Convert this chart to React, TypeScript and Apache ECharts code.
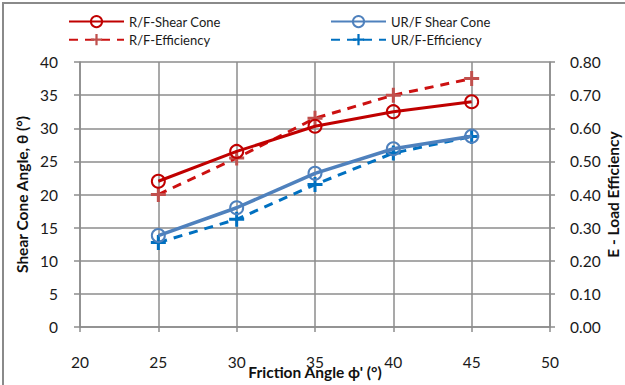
import React, { useEffect, useRef } from "react";
import * as echarts from "echarts";

const frictionAngles = [25, 30, 35, 40, 45];
const rfShearCone = [22.0, 26.5, 30.3, 32.5, 34.0];
const rfEfficiency = [0.40, 0.51, 0.63, 0.70, 0.75];
const urfShearCone = [13.8, 18.0, 23.2, 26.9, 28.8];
const urfEfficiency = [0.255, 0.325, 0.43, 0.525, 0.575];

const PLUS = "path://M4,0H6V4H10V6H6V10H4V6H0V4H4Z";
const FONT = "Lato";

export default function App() {
  const ref = useRef<HTMLDivElement>(null);
  useEffect(() => {
    const chart = echarts.init(ref.current!, null, { renderer: "svg" });
    const pair = (vals: number[]) => frictionAngles.map((x, i) => [x, vals[i]]);
    const grid = { color: "#8c8c8c", width: 1.5 };
    const nameStyle = { fontFamily: FONT, fontSize: 15.5, fontWeight: "bold", color: "#111" };
    const labelStyle = { fontFamily: FONT, fontSize: 15.5, color: "#1a1a1a" };
    chart.setOption({
      animation: false,
      textStyle: { fontFamily: FONT },
      graphic: [
        {
          type: "rect",
          shape: { x: 3, y: 3, width: 700, height: 500 },
          style: { fill: "none", stroke: "#8a8a8a", lineWidth: 2 },
          silent: true,
        },
      ],
      legend: [
        {
          left: 63,
          top: 10,
          orient: "vertical",
          itemWidth: 55,
          itemHeight: 14,
          itemGap: 5,
          textStyle: { fontFamily: FONT, fontSize: 13, color: "#1a1a1a" },
          data: ["R/F-Shear Cone", "R/F-Efficiency"],
        },
        {
          left: 325,
          top: 10,
          orient: "vertical",
          itemWidth: 55,
          itemHeight: 14,
          itemGap: 5,
          textStyle: { fontFamily: FONT, fontSize: 13, color: "#1a1a1a" },
          data: ["UR/F Shear Cone", "UR/F-Efficiency"],
        },
      ],
      grid: { left: 80, right: 75, top: 62, bottom: 58, outerBoundsMode: "none", containLabel: false },
      xAxis: {
        type: "value",
        min: 20,
        max: 50,
        interval: 5,
        name: "Friction Angle ϕ' (°)",
        nameLocation: "middle",
        nameGap: 37,
        nameMoveOverlap: false,
        nameTextStyle: nameStyle,
        axisLine: { lineStyle: grid },
        axisTick: { show: true, length: 5, lineStyle: grid },
        axisLabel: { margin: 27, ...labelStyle },
        splitLine: { show: true, lineStyle: grid },
      },
      yAxis: [
        {
          type: "value",
          min: 0,
          max: 40,
          interval: 5,
          name: "Shear Cone Angle, θ (°)",
          nameLocation: "middle",
          nameGap: 50,
          nameMoveOverlap: false,
          nameTextStyle: nameStyle,
          axisLine: { show: true, lineStyle: grid },
          axisTick: { show: true, length: 6, lineStyle: grid },
          axisLabel: { margin: 22, ...labelStyle },
          splitLine: { show: true, lineStyle: grid },
        },
        {
          type: "value",
          min: 0,
          max: 0.8,
          interval: 0.1,
          position: "right",
          name: "E - Load Efficiency",
          nameLocation: "middle",
          nameGap: 55,
          nameMoveOverlap: false,
          nameTextStyle: nameStyle,
          axisLine: { show: true, lineStyle: grid },
          axisTick: { show: true, length: 5, lineStyle: grid },
          axisLabel: {
            margin: 20,
            ...labelStyle,
            formatter: (v: number) => v.toFixed(2),
          },
          splitLine: { show: false },
        },
      ],
      series: [
        {
          name: "R/F-Shear Cone",
          type: "line",
          yAxisIndex: 0,
          data: pair(rfShearCone),
          symbol: "circle",
          symbolSize: 13,
          itemStyle: { color: "rgba(255,255,255,0)", borderColor: "#C00000", borderWidth: 2 },
          lineStyle: { color: "#C00000", width: 3 },
          z: 4,
        },
        {
          name: "R/F-Efficiency",
          type: "line",
          yAxisIndex: 1,
          data: pair(rfEfficiency),
          symbol: PLUS,
          symbolSize: 15,
          itemStyle: { color: "#C0504D" },
          lineStyle: { color: "#CC1111", width: 3, type: [9, 7] },
          z: 3,
        },
        {
          name: "UR/F Shear Cone",
          type: "line",
          yAxisIndex: 0,
          data: pair(urfShearCone),
          symbol: "circle",
          symbolSize: 13,
          itemStyle: { color: "rgba(255,255,255,0)", borderColor: "#4F81BD", borderWidth: 2 },
          lineStyle: { color: "#4F81BD", width: 3.5 },
          z: 4,
        },
        {
          name: "UR/F-Efficiency",
          type: "line",
          yAxisIndex: 1,
          data: pair(urfEfficiency),
          symbol: PLUS,
          symbolSize: 15,
          itemStyle: { color: "#0070C0" },
          lineStyle: { color: "#0070C0", width: 3, type: [9, 7] },
          z: 3,
        },
      ],
    });
    return () => chart.dispose();
  }, []);
  return (
    <div
      ref={ref}
      style={{ position: "absolute", left: 0, top: 0, width: 625, height: 385, background: "#fff" }}
    />
  );
}
